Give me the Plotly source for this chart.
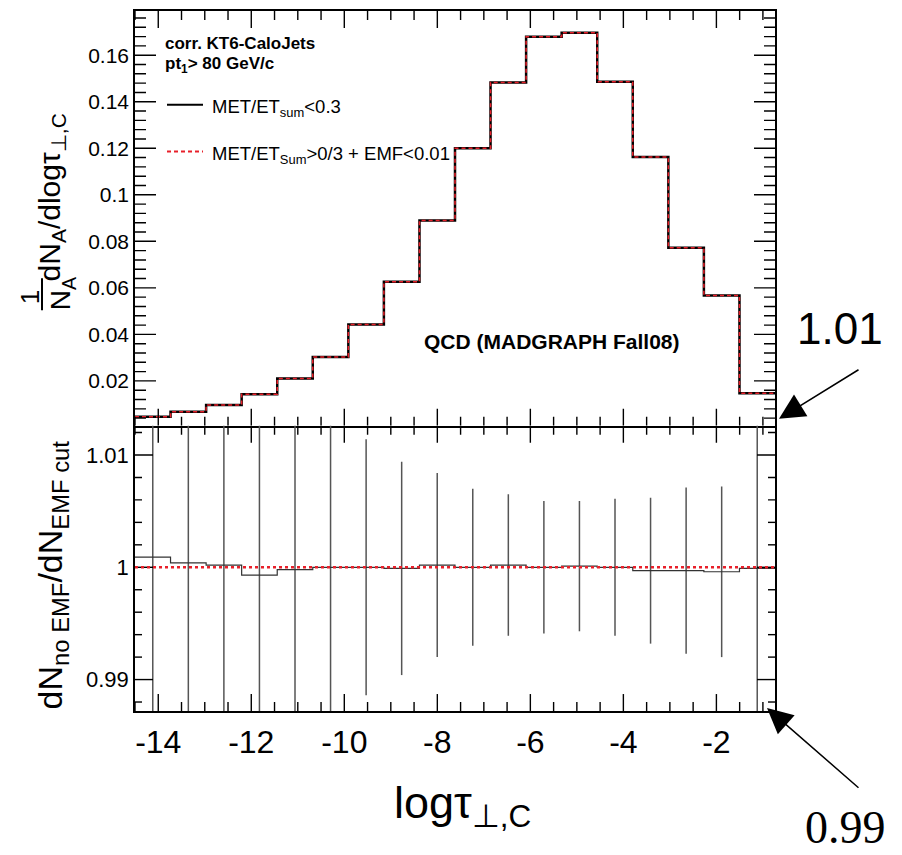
import plotly.graph_objects as go
from plotly.subplots import make_subplots

# ---------------- data ----------------
bin_edges = [-14.50, -13.736, -12.971, -12.207, -11.442, -10.678, -9.913, -9.149,
             -8.384, -7.620, -6.856, -6.091, -5.327, -4.562, -3.798, -3.033,
             -2.269, -1.504, -0.74]

dist_no_emf = [0.0046, 0.0067, 0.0097, 0.0143, 0.0210, 0.0303, 0.0443, 0.0626, 0.0890,
               0.1200, 0.1483, 0.1679, 0.1697, 0.1486, 0.1162, 0.0772, 0.0567, 0.0147]
dist_emf_cut = [0.0046, 0.0067, 0.0097, 0.0143, 0.0210, 0.0303, 0.0443, 0.0626, 0.0890,
                0.1200, 0.1483, 0.1679, 0.1697, 0.1486, 0.1162, 0.0772, 0.0567, 0.0147]

ratio = [1.0009, 1.0004, 1.0002, 0.9993, 0.9998, 1.0000, 1.0000, 0.9999, 1.0002,
         1.0000, 1.0002, 1.0000, 1.0001, 1.0000, 0.9997, 0.9997, 0.9996, 0.9999]
ratio_err = [0.02, 0.02, 0.02, 0.02, 0.02, 0.02, 0.0114, 0.0095, 0.0082,
             0.0070, 0.0063, 0.0059, 0.0058, 0.0061, 0.0065, 0.0074, 0.0076, 0.02]
ratio_ref = 1.0

x_tickvals = [-14, -12, -10, -8, -6, -4, -2]
x_ticktext = ["-14", "-12", "-10", "-8", "-6", "-4", "-2"]
top_tickvals = [0.02, 0.04, 0.06, 0.08, 0.10, 0.12, 0.14, 0.16]
top_ticktext = ["0.02", "0.04", "0.06", "0.08", "0.1", "0.12", "0.14", "0.16"]
bot_tickvals = [0.99, 1.0, 1.01]
bot_ticktext = ["0.99", "1", "1.01"]

x_range = [bin_edges[0], bin_edges[-1]]
top_range = [0.0007, 0.179]
bot_range = [0.9872, 1.0126]

# ---------------- figure ----------------
SANS = "Liberation Sans, Arial, Helvetica, sans-serif"
SERIF = "Liberation Serif, Times New Roman, serif"

W, H = 902, 855
ML, MR, MT, MB = 135, 127, 9, 144
PW, PH = W - ML - MR, H - MT - MB
split_px = 425
bot_frac = (H - MB - split_px) / PH
TOP_PX = (1 - bot_frac) * PH
BOT_PX = bot_frac * PH


def PX(x):
    return (x - ML) / PW


def PY(y):
    return (H - MB - y) / PH


fig = make_subplots(rows=2, cols=1, shared_xaxes=True, vertical_spacing=0,
                    row_heights=[1 - bot_frac, bot_frac])

centers = [(a + b) / 2 for a, b in zip(bin_edges[:-1], bin_edges[1:])]

fig.add_trace(go.Scatter(x=bin_edges, y=dist_no_emf + [dist_no_emf[-1]], mode="lines",
                         line=dict(shape="hv", color="black", width=2.5),
                         showlegend=False, hoverinfo="skip"), row=1, col=1)
fig.add_trace(go.Scatter(x=bin_edges, y=dist_emf_cut + [dist_emf_cut[-1]], mode="lines",
                         line=dict(shape="hv", color="#e8202a", width=1.5, dash="4px,3px"),
                         showlegend=False, hoverinfo="skip"), row=1, col=1)

fig.add_trace(go.Scatter(x=centers, y=ratio, mode="markers",
                         marker=dict(size=1, color="rgba(0,0,0,0)"),
                         error_y=dict(type="data", array=ratio_err, visible=True,
                                      thickness=1.5, width=0, color="#555555"),
                         showlegend=False, hoverinfo="skip"), row=2, col=1)
fig.add_trace(go.Scatter(x=bin_edges, y=ratio + [ratio[-1]], mode="lines",
                         line=dict(shape="hv", color="#333333", width=1.2),
                         showlegend=False, hoverinfo="skip"), row=2, col=1)
fig.add_hline(y=ratio_ref, line=dict(color="#e8202a", width=2.5, dash="dot"), row=2, col=1)

# ---------------- inside tick marks (ROOT style), drawn on the axes' own scales ----------------
x_minor = [round(-14.5 + 0.5 * i, 3) for i in range(28)]
x_minor = [v for v in x_minor if v not in x_tickvals]
top_minor = [round(0.004 * i, 3) for i in range(1, 45)]
top_minor = [v for v in top_minor if v not in top_tickvals]
bot_minor = [round(0.988 + 0.002 * i, 3) for i in range(13)]
bot_minor = [v for v in bot_minor if v not in bot_tickvals]


def tick_trace(yrange, panel_px, ymajor, yminor, ymaj_len, ymin_len):
    xs, ys = [], []
    dx = (x_range[1] - x_range[0]) / PW
    dy = (yrange[1] - yrange[0]) / panel_px
    lo, hi = yrange
    for vals, L in ((x_tickvals, 17), (x_minor, 9)):
        for v in vals:
            xs += [v, v, None, v, v, None]
            ys += [lo, lo + L * dy, None, hi, hi - L * dy, None]
    for vals, L in ((ymajor, ymaj_len), (yminor, ymin_len)):
        for v in vals:
            xs += [x_range[0], x_range[0] + L * dx, None, x_range[1], x_range[1] - L * dx, None]
            ys += [v, v, None, v, v, None]
    return go.Scatter(x=xs, y=ys, mode="lines", line=dict(color="black", width=1.4),
                      showlegend=False, hoverinfo="skip", connectgaps=False)


fig.add_trace(tick_trace(top_range, TOP_PX, top_tickvals, top_minor, 21, 11), row=1, col=1)
fig.add_trace(tick_trace(bot_range, BOT_PX, bot_tickvals, bot_minor, 18, 7), row=2, col=1)

base = dict(showline=True, linecolor="black", linewidth=1.5, ticks="",
            showgrid=False, zeroline=False)

fig.update_xaxes(base, range=x_range, tickmode="array", tickvals=x_tickvals,
                 ticktext=x_ticktext)
fig.update_xaxes(showticklabels=False, mirror=True, row=1, col=1)
fig.update_xaxes(showticklabels=True, mirror=False,
                 tickfont=dict(family=SANS, size=32, color="black"),
                 ticklabelstandoff=2, row=2, col=1)

fig.update_yaxes(base, mirror=True, range=top_range, tickmode="array", tickvals=top_tickvals,
                 ticktext=top_ticktext, tickfont=dict(family=SANS, size=21, color="black"),
                 row=1, col=1)
fig.update_yaxes(base, mirror=True, range=bot_range, tickmode="array", tickvals=bot_tickvals,
                 ticktext=bot_ticktext, tickfont=dict(family=SANS, size=22, color="black"),
                 row=2, col=1)

# ---------------- texts ----------------
ann = []


def text(t, x, y, size, family=SANS, xanchor="center", yanchor="middle", angle=0, color="black"):
    ann.append(dict(text=t, x=PX(x), y=PY(y), xref="paper", yref="paper",
                    xanchor=xanchor, yanchor=yanchor, showarrow=False, textangle=angle,
                    font=dict(family=family, size=size, color=color)))


text("<b>corr. KT6-CaloJets</b>", 163, 42, 17, xanchor="left")
text("<b>pt<sub>1</sub>&gt; 80 GeV/c</b>", 163, 63, 17, xanchor="left")
text("MET/ET<sub>sum</sub>&lt;0.3", 210, 106, 18.5, xanchor="left")
text("MET/ET<sub>Sum</sub>&gt;0/3 + EMF&lt;0.01", 210, 153, 18.5, xanchor="left")
text("<b>QCD (MADGRAPH Fall08)</b>", 552, 340, 21)

text("1", 30, 296, 26, angle=-90)
text("N<sub>A</sub>", 62, 292, 28, angle=-90)
text("dN<sub>A</sub>/dlogτ<sub>⊥,C</sub>", 51, 196, 30, angle=-90)

text("dN<sub>no EMF</sub>/dN<sub>EMF cut</sub>", 52, 575, 34, angle=-90)

text("logτ<sub>⊥,C</sub>", 462, 806, 45)

text("1.01", 840, 327, 44)
text("0.99", 845, 828, 46, family=SERIF)

for head, tail in [((779, 418), (860, 368)), ((767, 708), (860, 789))]:
    ann.append(dict(text="", x=PX(head[0]), y=PY(head[1]), xref="paper", yref="paper",
                    showarrow=True, ax=tail[0] - head[0], ay=tail[1] - head[1],
                    arrowhead=2, arrowsize=3.4, arrowwidth=1.5, arrowcolor="black",
                    standoff=0, startstandoff=0))

deco_shapes = [
    dict(type="line", xref="paper", yref="paper", x0=PX(167), x1=PX(203), y0=PY(103), y1=PY(103),
         line=dict(color="black", width=2)),
    dict(type="line", xref="paper", yref="paper", x0=PX(167), x1=PX(203), y0=PY(150), y1=PY(150),
         line=dict(color="#e8202a", width=2, dash="4px,3px")),
    dict(type="line", xref="paper", yref="paper", x0=PX(42), x1=PX(42), y0=PY(277), y1=PY(309),
         line=dict(color="black", width=2)),
]

fig.update_layout(width=W, height=H, margin=dict(l=ML, r=MR, t=MT, b=MB),
                  plot_bgcolor="white", paper_bgcolor="white",
                  font=dict(family=SANS, color="black"),
                  annotations=list(fig.layout.annotations) + ann,
                  shapes=list(fig.layout.shapes) + deco_shapes)

fig.write_html("out.html")
